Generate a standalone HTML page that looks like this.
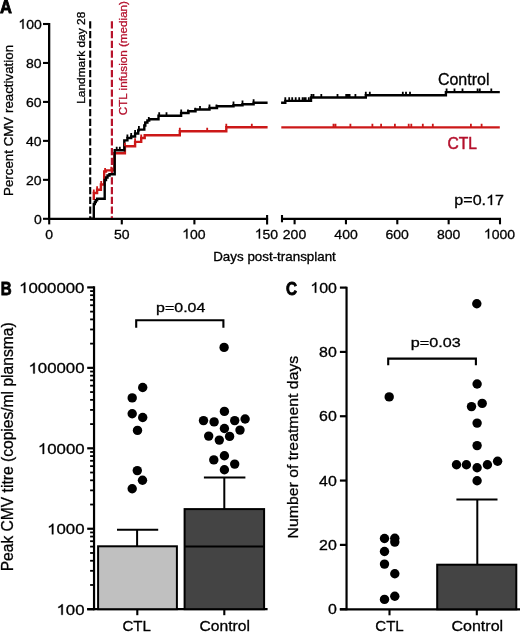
<!DOCTYPE html>
<html><head><meta charset="utf-8"><style>
html,body{margin:0;padding:0;background:#fff;}
svg{display:block;will-change:transform;}
text{font-family:"Liberation Sans",sans-serif;}
</style></head><body>
<svg width="520" height="632" viewBox="0 0 520 632">
<rect width="520" height="632" fill="#fff"/>
<text x="0.1" y="12.5" font-size="17.5" font-weight="bold" fill="#000" stroke="#000" stroke-width="0.8" textLength="11.93" lengthAdjust="spacingAndGlyphs">A</text>
<line x1="49.15" y1="23" x2="49.15" y2="219.9" stroke="#000" stroke-width="2.3"/>
<line x1="43" y1="218.8" x2="49.15" y2="218.8" stroke="#000" stroke-width="2.1"/>
<text x="33.92" y="223.5" font-size="13.6" fill="#000" stroke="#000" stroke-width="0.3" textLength="7.79" lengthAdjust="spacingAndGlyphs">0</text>
<line x1="43" y1="179.84" x2="49.15" y2="179.84" stroke="#000" stroke-width="2.1"/>
<text x="26.07" y="184.54" font-size="13.6" fill="#000" stroke="#000" stroke-width="0.3" textLength="15.58" lengthAdjust="spacingAndGlyphs">20</text>
<line x1="43" y1="140.88" x2="49.15" y2="140.88" stroke="#000" stroke-width="2.1"/>
<text x="26.07" y="145.58" font-size="13.6" fill="#000" stroke="#000" stroke-width="0.3" textLength="15.58" lengthAdjust="spacingAndGlyphs">40</text>
<line x1="43" y1="101.92" x2="49.15" y2="101.92" stroke="#000" stroke-width="2.1"/>
<text x="26.07" y="106.62" font-size="13.6" fill="#000" stroke="#000" stroke-width="0.3" textLength="15.58" lengthAdjust="spacingAndGlyphs">60</text>
<line x1="43" y1="62.96" x2="49.15" y2="62.96" stroke="#000" stroke-width="2.1"/>
<text x="26.07" y="67.66" font-size="13.6" fill="#000" stroke="#000" stroke-width="0.3" textLength="15.58" lengthAdjust="spacingAndGlyphs">80</text>
<line x1="43" y1="24" x2="49.15" y2="24" stroke="#000" stroke-width="2.1"/>
<path d="M764 0L584 0L584 1147C541 1106 484 1065 414 1024C344 983 281 952 225 931L225 1105C322 1150 407 1205 480 1270C553 1335 604 1400 634 1466L764 1466Z" transform="translate(18.37 28.7) scale(0.006840 -0.006641)" fill="#000" stroke="#000" stroke-width="45.2"/>
<text x="18.37" y="28.7" font-size="13.6" fill="#000" stroke="#000" stroke-width="0.3" textLength="23.37" lengthAdjust="spacingAndGlyphs"> 00</text>
<text transform="translate(12.9 195.97) rotate(-90)" font-size="13.3" fill="#000" stroke="#000" stroke-width="0.3" textLength="151.06" lengthAdjust="spacingAndGlyphs">Percent CMV reactivation</text>
<line x1="48" y1="218.8" x2="268.1" y2="218.8" stroke="#000" stroke-width="2.2"/>
<line x1="281.2" y1="218.8" x2="501" y2="218.8" stroke="#000" stroke-width="2.2"/>
<line x1="49.2" y1="218.8" x2="49.2" y2="224.4" stroke="#000" stroke-width="2.1"/>
<line x1="121.8" y1="218.8" x2="121.8" y2="224.4" stroke="#000" stroke-width="2.1"/>
<line x1="194.4" y1="218.8" x2="194.4" y2="224.4" stroke="#000" stroke-width="2.1"/>
<line x1="267.1" y1="215" x2="267.1" y2="224.5" stroke="#000" stroke-width="2.1"/>
<line x1="282" y1="215" x2="282" y2="222.3" stroke="#000" stroke-width="2.1"/>
<line x1="294.6" y1="218.8" x2="294.6" y2="224.3" stroke="#000" stroke-width="2.1"/>
<line x1="345.95" y1="218.8" x2="345.95" y2="224.3" stroke="#000" stroke-width="2.1"/>
<line x1="397.3" y1="218.8" x2="397.3" y2="224.3" stroke="#000" stroke-width="2.1"/>
<line x1="448.65" y1="218.8" x2="448.65" y2="224.3" stroke="#000" stroke-width="2.1"/>
<line x1="500" y1="218.8" x2="500" y2="224.3" stroke="#000" stroke-width="2.1"/>
<text x="45.28" y="238.6" font-size="13.6" fill="#000" stroke="#000" stroke-width="0.3" textLength="7.79" lengthAdjust="spacingAndGlyphs">0</text>
<text x="113.96" y="238.6" font-size="13.6" fill="#000" stroke="#000" stroke-width="0.3" textLength="15.58" lengthAdjust="spacingAndGlyphs">50</text>
<path d="M764 0L584 0L584 1147C541 1106 484 1065 414 1024C344 983 281 952 225 931L225 1105C322 1150 407 1205 480 1270C553 1335 604 1400 634 1466L764 1466Z" transform="translate(182.21 238.6) scale(0.006840 -0.006641)" fill="#000" stroke="#000" stroke-width="45.2"/>
<text x="182.21" y="238.6" font-size="13.6" fill="#000" stroke="#000" stroke-width="0.3" textLength="23.37" lengthAdjust="spacingAndGlyphs"> 00</text>
<path d="M764 0L584 0L584 1147C541 1106 484 1065 414 1024C344 983 281 952 225 931L225 1105C322 1150 407 1205 480 1270C553 1335 604 1400 634 1466L764 1466Z" transform="translate(254.81 238.6) scale(0.006840 -0.006641)" fill="#000" stroke="#000" stroke-width="45.2"/>
<text x="254.81" y="238.6" font-size="13.6" fill="#000" stroke="#000" stroke-width="0.3" textLength="23.37" lengthAdjust="spacingAndGlyphs"> 50</text>
<text x="282.83" y="238.6" font-size="13.6" fill="#000" stroke="#000" stroke-width="0.3" textLength="23.37" lengthAdjust="spacingAndGlyphs">200</text>
<text x="334.39" y="238.6" font-size="13.6" fill="#000" stroke="#000" stroke-width="0.3" textLength="23.37" lengthAdjust="spacingAndGlyphs">400</text>
<text x="385.53" y="238.6" font-size="13.6" fill="#000" stroke="#000" stroke-width="0.3" textLength="23.37" lengthAdjust="spacingAndGlyphs">600</text>
<text x="436.95" y="238.6" font-size="13.6" fill="#000" stroke="#000" stroke-width="0.3" textLength="23.37" lengthAdjust="spacingAndGlyphs">800</text>
<path d="M764 0L584 0L584 1147C541 1106 484 1065 414 1024C344 983 281 952 225 931L225 1105C322 1150 407 1205 480 1270C553 1335 604 1400 634 1466L764 1466Z" transform="translate(483.89 238.6) scale(0.006840 -0.006641)" fill="#000" stroke="#000" stroke-width="45.2"/>
<text x="483.89" y="238.6" font-size="13.6" fill="#000" stroke="#000" stroke-width="0.3" textLength="31.16" lengthAdjust="spacingAndGlyphs"> 000</text>
<text x="213.23" y="260.5" font-size="12.2" fill="#000" stroke="#000" stroke-width="0.3" textLength="122.61" lengthAdjust="spacingAndGlyphs">Days post-transplant</text>
<line x1="90.2" y1="21.3" x2="90.2" y2="218" stroke="#000" stroke-width="2.1" stroke-dasharray="7.1 2.65"/>
<line x1="111.9" y1="21.3" x2="111.9" y2="218" stroke="#b8142c" stroke-width="2.2" stroke-dasharray="7.1 2.65"/>
<text transform="translate(84.5 103.85) rotate(-90)" font-size="11.8" fill="#000" stroke="#000" stroke-width="0.3" textLength="92.11" lengthAdjust="spacingAndGlyphs">Landmark day 28</text>
<text transform="translate(127.3 115.28) rotate(-90)" font-size="11.8" fill="#b4102c" stroke="#b4102c" stroke-width="0.3" textLength="114.28" lengthAdjust="spacingAndGlyphs">CTL infusion (median)</text>
<path d="M93.8 200 V193 H97.1 V189.8 H100.9 V184.5 H104.2 V171.5 H106 V170.4 H114.3 V153.3 H124.9 V146.3 H135.1 V141.9 H141.2 V138 H144.7 V135.2 H179.8 V131.3 H226.3 V127.3 H267.6" fill="none" stroke="#cc1818" stroke-width="2.4"/>
<path d="M281.3 127.4 H499.8" fill="none" stroke="#cc1818" stroke-width="2.4"/>
<path d="M90.2 218.8 H93.8 V204 H94.8 V202 H95.8 V200.3 H97.1 V198.8 H104.7 V180 H106 V177.5 H107.5 V175.5 H109.5 V174.3 H114.7 V150.3 H124.3 V140.4 H127.4 V138 H131.2 V136.5 H135.1 V133.5 H138.2 V130.4 H138.9 V129.6 H144.3 V125.5 H145.3 V122.5 H147.4 V120.5 H149.2 V119.2 H158.5 V115.8 H181.1 V113 H188.5 V111.3 H195.5 V109.5 H209.5 V108 H217 V106.2 H233.5 V105.2 H242.5 V104.2 H253.6 V102.8 H267.6" fill="none" stroke="#000" stroke-width="2.4"/>
<path d="M281.1 102.8 H285.3 V100.9 H311 V97.5 H365.8 V95.3 H445.9 V92.1 H499.8" fill="none" stroke="#000" stroke-width="2.4"/>
<path d="M116.7 150.3 V146.7 M119.8 150.3 V146.7 M127.4 138 V134.4 M131.2 136.5 V132.9 M135.1 133.5 V129.9 M138.9 129.6 V126 M145.1 125.5 V121.9 M148.8 120.5 V116.9 M159.2 115.8 V112.2 M166.5 115.8 V112.2 M181.2 113 V109.4 M188 113 V109.4 M195.3 111.3 V107.7 M200 109.5 V105.9 M209.5 108 V104.4 M216.5 108 V104.4 M233.5 105.2 V101.6 M242.5 104.2 V100.6 M253.6 102.8 V99.2 " fill="none" stroke="#000" stroke-width="1.8"/>
<path d="M285.3 100.9 V97.3 M289.2 100.9 V97.3 M292.2 100.9 V97.3 M295.7 100.9 V97.3 M299.2 100.9 V97.3 M302.6 100.9 V97.3 M304.5 100.9 V97.3 M305.7 100.9 V97.3 M308.8 100.9 V97.3 M311.5 97.5 V93.9 M313.5 97.5 V93.9 M321.3 97.5 V93.9 M337.5 97.5 V93.9 M346.2 97.5 V93.9 M348 97.5 V93.9 M349.6 97.5 V93.9 M355.4 97.5 V93.9 M365.8 95.3 V91.7 M369.8 95.3 V91.7 M402.8 95.3 V91.7 M406 95.3 V91.7 M410 95.3 V91.7 M446.6 92.1 V88.5 M454.5 92.1 V88.5 M462.5 92.1 V88.5 M477.6 92.1 V88.5 M479.8 92.1 V88.5 M491.3 92.1 V88.5 " fill="none" stroke="#000" stroke-width="1.8"/>
<path d="M93.8 193 V189.4 M97.1 189.8 V186.2 M101.2 184.5 V180.9 M105.1 171.5 V167.9 M111.3 170.4 V166.8 M124.9 146.3 V142.7 M135.1 141.9 V138.3 M141.2 138 V134.4 M179.8 131.3 V127.7 M207.2 131.3 V127.7 M226.3 127.3 V123.7 M251.8 127.3 V123.7 " fill="none" stroke="#cc1818" stroke-width="1.8"/>
<path d="M333.5 127.4 V123.8 M335.5 127.4 V123.8 M350.4 127.4 V123.8 M372.4 127.4 V123.8 M381.1 127.4 V123.8 M394.9 127.4 V123.8 M408.7 127.4 V123.8 M411.3 127.4 V123.8 M422.8 127.4 V123.8 M432.8 127.4 V123.8 M470.9 127.4 V123.8 M481.6 127.4 V123.8 " fill="none" stroke="#cc1818" stroke-width="1.8"/>
<text x="437.9" y="84.7" font-size="16" fill="#000" stroke="#000" stroke-width="0.3" textLength="51.62" lengthAdjust="spacingAndGlyphs">Control</text>
<text x="447.42" y="148.7" font-size="16.6" fill="#b4102c" stroke="#b4102c" stroke-width="0.5" textLength="29.49" lengthAdjust="spacingAndGlyphs">CTL</text>
<path d="M764 0L584 0L584 1147C541 1106 484 1065 414 1024C344 983 281 952 225 931L225 1105C322 1150 407 1205 480 1270C553 1335 604 1400 634 1466L764 1466Z" transform="translate(486.07 205) scale(0.007849 -0.007031)" fill="#000" stroke="#000" stroke-width="42.7"/>
<text x="454.34" y="205" font-size="14.4" fill="#000" stroke="#000" stroke-width="0.3" textLength="49.61" lengthAdjust="spacingAndGlyphs">p=0. 7</text>
<text x="0.74" y="295" font-size="17.5" font-weight="bold" fill="#000" stroke="#000" stroke-width="0.8" textLength="10.89" lengthAdjust="spacingAndGlyphs">B</text>
<line x1="94.05" y1="286.3" x2="94.05" y2="610.3" stroke="#000" stroke-width="2.2"/>
<line x1="87.2" y1="609.2" x2="94.05" y2="609.2" stroke="#000" stroke-width="2.2"/>
<path d="M764 0L584 0L584 1147C541 1106 484 1065 414 1024C344 983 281 952 225 931L225 1105C322 1150 407 1205 480 1270C553 1335 604 1400 634 1466L764 1466Z" transform="translate(56.52 614.8) scale(0.008202 -0.007227)" fill="#000" stroke="#000" stroke-width="41.5"/>
<text x="56.52" y="614.8" font-size="14.8" fill="#000" stroke="#000" stroke-width="0.3" textLength="28.02" lengthAdjust="spacingAndGlyphs"> 00</text>
<line x1="90.1" y1="584.98" x2="94.05" y2="584.98" stroke="#000" stroke-width="1.8"/>
<line x1="90.1" y1="570.82" x2="94.05" y2="570.82" stroke="#000" stroke-width="1.8"/>
<line x1="90.1" y1="560.76" x2="94.05" y2="560.76" stroke="#000" stroke-width="1.8"/>
<line x1="90.1" y1="552.97" x2="94.05" y2="552.97" stroke="#000" stroke-width="1.8"/>
<line x1="90.1" y1="546.6" x2="94.05" y2="546.6" stroke="#000" stroke-width="1.8"/>
<line x1="90.1" y1="541.21" x2="94.05" y2="541.21" stroke="#000" stroke-width="1.8"/>
<line x1="90.1" y1="536.55" x2="94.05" y2="536.55" stroke="#000" stroke-width="1.8"/>
<line x1="90.1" y1="532.43" x2="94.05" y2="532.43" stroke="#000" stroke-width="1.8"/>
<line x1="87.2" y1="528.75" x2="94.05" y2="528.75" stroke="#000" stroke-width="2.2"/>
<path d="M764 0L584 0L584 1147C541 1106 484 1065 414 1024C344 983 281 952 225 931L225 1105C322 1150 407 1205 480 1270C553 1335 604 1400 634 1466L764 1466Z" transform="translate(47.11 534.35) scale(0.008202 -0.007227)" fill="#000" stroke="#000" stroke-width="41.5"/>
<text x="47.11" y="534.35" font-size="14.8" fill="#000" stroke="#000" stroke-width="0.3" textLength="37.37" lengthAdjust="spacingAndGlyphs"> 000</text>
<line x1="90.1" y1="504.53" x2="94.05" y2="504.53" stroke="#000" stroke-width="1.8"/>
<line x1="90.1" y1="490.37" x2="94.05" y2="490.37" stroke="#000" stroke-width="1.8"/>
<line x1="90.1" y1="480.31" x2="94.05" y2="480.31" stroke="#000" stroke-width="1.8"/>
<line x1="90.1" y1="472.52" x2="94.05" y2="472.52" stroke="#000" stroke-width="1.8"/>
<line x1="90.1" y1="466.15" x2="94.05" y2="466.15" stroke="#000" stroke-width="1.8"/>
<line x1="90.1" y1="460.76" x2="94.05" y2="460.76" stroke="#000" stroke-width="1.8"/>
<line x1="90.1" y1="456.1" x2="94.05" y2="456.1" stroke="#000" stroke-width="1.8"/>
<line x1="90.1" y1="451.98" x2="94.05" y2="451.98" stroke="#000" stroke-width="1.8"/>
<line x1="87.2" y1="448.3" x2="94.05" y2="448.3" stroke="#000" stroke-width="2.2"/>
<path d="M764 0L584 0L584 1147C541 1106 484 1065 414 1024C344 983 281 952 225 931L225 1105C322 1150 407 1205 480 1270C553 1335 604 1400 634 1466L764 1466Z" transform="translate(37.87 453.9) scale(0.008202 -0.007227)" fill="#000" stroke="#000" stroke-width="41.5"/>
<text x="37.87" y="453.9" font-size="14.8" fill="#000" stroke="#000" stroke-width="0.3" textLength="46.71" lengthAdjust="spacingAndGlyphs"> 0000</text>
<line x1="90.1" y1="424.08" x2="94.05" y2="424.08" stroke="#000" stroke-width="1.8"/>
<line x1="90.1" y1="409.92" x2="94.05" y2="409.92" stroke="#000" stroke-width="1.8"/>
<line x1="90.1" y1="399.86" x2="94.05" y2="399.86" stroke="#000" stroke-width="1.8"/>
<line x1="90.1" y1="392.07" x2="94.05" y2="392.07" stroke="#000" stroke-width="1.8"/>
<line x1="90.1" y1="385.7" x2="94.05" y2="385.7" stroke="#000" stroke-width="1.8"/>
<line x1="90.1" y1="380.31" x2="94.05" y2="380.31" stroke="#000" stroke-width="1.8"/>
<line x1="90.1" y1="375.65" x2="94.05" y2="375.65" stroke="#000" stroke-width="1.8"/>
<line x1="90.1" y1="371.53" x2="94.05" y2="371.53" stroke="#000" stroke-width="1.8"/>
<line x1="87.2" y1="367.85" x2="94.05" y2="367.85" stroke="#000" stroke-width="2.2"/>
<path d="M764 0L584 0L584 1147C541 1106 484 1065 414 1024C344 983 281 952 225 931L225 1105C322 1150 407 1205 480 1270C553 1335 604 1400 634 1466L764 1466Z" transform="translate(28.47 373.45) scale(0.008202 -0.007227)" fill="#000" stroke="#000" stroke-width="41.5"/>
<text x="28.47" y="373.45" font-size="14.8" fill="#000" stroke="#000" stroke-width="0.3" textLength="56.05" lengthAdjust="spacingAndGlyphs"> 00000</text>
<line x1="90.1" y1="343.63" x2="94.05" y2="343.63" stroke="#000" stroke-width="1.8"/>
<line x1="90.1" y1="329.47" x2="94.05" y2="329.47" stroke="#000" stroke-width="1.8"/>
<line x1="90.1" y1="319.41" x2="94.05" y2="319.41" stroke="#000" stroke-width="1.8"/>
<line x1="90.1" y1="311.62" x2="94.05" y2="311.62" stroke="#000" stroke-width="1.8"/>
<line x1="90.1" y1="305.25" x2="94.05" y2="305.25" stroke="#000" stroke-width="1.8"/>
<line x1="90.1" y1="299.86" x2="94.05" y2="299.86" stroke="#000" stroke-width="1.8"/>
<line x1="90.1" y1="295.2" x2="94.05" y2="295.2" stroke="#000" stroke-width="1.8"/>
<line x1="90.1" y1="291.08" x2="94.05" y2="291.08" stroke="#000" stroke-width="1.8"/>
<line x1="87.2" y1="287.4" x2="94.05" y2="287.4" stroke="#000" stroke-width="2.2"/>
<path d="M764 0L584 0L584 1147C541 1106 484 1065 414 1024C344 983 281 952 225 931L225 1105C322 1150 407 1205 480 1270C553 1335 604 1400 634 1466L764 1466Z" transform="translate(19.06 293) scale(0.008202 -0.007227)" fill="#000" stroke="#000" stroke-width="41.5"/>
<text x="19.06" y="293" font-size="14.8" fill="#000" stroke="#000" stroke-width="0.3" textLength="65.39" lengthAdjust="spacingAndGlyphs"> 000000</text>
<text transform="translate(13 571.35) rotate(-90)" font-size="15.6" fill="#000" stroke="#000" stroke-width="0.3" textLength="248.96" lengthAdjust="spacingAndGlyphs">Peak CMV titre (copies/ml plansma)</text>
<line x1="87.2" y1="609.2" x2="267.6" y2="609.2" stroke="#000" stroke-width="2.3"/>
<rect x="98.1" y="546.3" width="78.8" height="62.9" fill="#c0c0c0" stroke="#000" stroke-width="2"/>
<line x1="137.1" y1="546.3" x2="137.1" y2="529.8" stroke="#000" stroke-width="2"/>
<line x1="117" y1="529.8" x2="158.2" y2="529.8" stroke="#000" stroke-width="2"/>
<rect x="184.6" y="509.1" width="79.5" height="100.1" fill="#444" stroke="#000" stroke-width="2"/>
<line x1="184.6" y1="546.6" x2="264.1" y2="546.6" stroke="#000" stroke-width="2"/>
<line x1="224.3" y1="509.1" x2="224.3" y2="477.6" stroke="#000" stroke-width="2"/>
<line x1="203.9" y1="477.6" x2="245.4" y2="477.6" stroke="#000" stroke-width="2"/>
<line x1="137.3" y1="609.2" x2="137.3" y2="615.2" stroke="#000" stroke-width="2.1"/>
<line x1="224.3" y1="609.2" x2="224.3" y2="615.2" stroke="#000" stroke-width="2.1"/>
<circle cx="142.7" cy="387.5" r="4.7"/>
<circle cx="132.2" cy="397.9" r="4.7"/>
<circle cx="132.2" cy="413.7" r="4.7"/>
<circle cx="142.7" cy="417.5" r="4.7"/>
<circle cx="137.5" cy="430.4" r="4.7"/>
<circle cx="137.3" cy="470.6" r="4.7"/>
<circle cx="142.5" cy="480.3" r="4.7"/>
<circle cx="132.2" cy="488.8" r="4.7"/>
<circle cx="224.1" cy="347.4" r="4.7"/>
<circle cx="224.4" cy="411.4" r="4.7"/>
<circle cx="203.5" cy="420.6" r="4.7"/>
<circle cx="214.1" cy="421.9" r="4.7"/>
<circle cx="234.7" cy="420.6" r="4.7"/>
<circle cx="245.1" cy="419" r="4.7"/>
<circle cx="224.4" cy="428.5" r="4.7"/>
<circle cx="240" cy="430.1" r="4.7"/>
<circle cx="208.7" cy="436.1" r="4.7"/>
<circle cx="219.3" cy="440.1" r="4.7"/>
<circle cx="229.6" cy="436.4" r="4.7"/>
<circle cx="224.4" cy="455.7" r="4.7"/>
<circle cx="213.8" cy="459.9" r="4.7"/>
<circle cx="234.7" cy="464.1" r="4.7"/>
<circle cx="224.4" cy="469.7" r="4.7"/>
<path d="M136.2 327.8 V320.3 H223.4 V327.8" fill="none" stroke="#000" stroke-width="2.1"/>
<text x="156.14" y="311.6" font-size="13.4" fill="#000" stroke="#000" stroke-width="0.3" textLength="49.17" lengthAdjust="spacingAndGlyphs">p=0.04</text>
<text x="122.46" y="630.8" font-size="14.8" fill="#000" stroke="#000" stroke-width="0.3" textLength="28.52" lengthAdjust="spacingAndGlyphs">CTL</text>
<text x="199.47" y="630.8" font-size="14.5" fill="#000" stroke="#000" stroke-width="0.3" textLength="50.48" lengthAdjust="spacingAndGlyphs">Control</text>
<text x="286.08" y="295" font-size="17.5" font-weight="bold" fill="#000" stroke="#000" stroke-width="0.8" textLength="11.11" lengthAdjust="spacingAndGlyphs">C</text>
<line x1="346.55" y1="286.8" x2="346.55" y2="610.3" stroke="#000" stroke-width="2.2"/>
<line x1="339.9" y1="609.2" x2="346.55" y2="609.2" stroke="#000" stroke-width="2.2"/>
<text x="328.01" y="614.3" font-size="14.5" fill="#000" stroke="#000" stroke-width="0.3" textLength="8.87" lengthAdjust="spacingAndGlyphs">0</text>
<line x1="339.9" y1="544.88" x2="346.55" y2="544.88" stroke="#000" stroke-width="2.2"/>
<text x="319.07" y="549.98" font-size="14.5" fill="#000" stroke="#000" stroke-width="0.3" textLength="17.74" lengthAdjust="spacingAndGlyphs">20</text>
<line x1="339.9" y1="480.56" x2="346.55" y2="480.56" stroke="#000" stroke-width="2.2"/>
<text x="319.07" y="485.66" font-size="14.5" fill="#000" stroke="#000" stroke-width="0.3" textLength="17.74" lengthAdjust="spacingAndGlyphs">40</text>
<line x1="339.9" y1="416.24" x2="346.55" y2="416.24" stroke="#000" stroke-width="2.2"/>
<text x="319.07" y="421.34" font-size="14.5" fill="#000" stroke="#000" stroke-width="0.3" textLength="17.74" lengthAdjust="spacingAndGlyphs">60</text>
<line x1="339.9" y1="351.92" x2="346.55" y2="351.92" stroke="#000" stroke-width="2.2"/>
<text x="319.07" y="357.02" font-size="14.5" fill="#000" stroke="#000" stroke-width="0.3" textLength="17.74" lengthAdjust="spacingAndGlyphs">80</text>
<line x1="339.9" y1="287.6" x2="346.55" y2="287.6" stroke="#000" stroke-width="2.2"/>
<path d="M764 0L584 0L584 1147C541 1106 484 1065 414 1024C344 983 281 952 225 931L225 1105C322 1150 407 1205 480 1270C553 1335 604 1400 634 1466L764 1466Z" transform="translate(310.3 292.7) scale(0.007788 -0.007080)" fill="#000" stroke="#000" stroke-width="42.4"/>
<text x="310.3" y="292.7" font-size="14.5" fill="#000" stroke="#000" stroke-width="0.3" textLength="26.61" lengthAdjust="spacingAndGlyphs"> 00</text>
<text transform="translate(297.6 538.46) rotate(-90)" font-size="15.4" fill="#000" stroke="#000" stroke-width="0.3" textLength="182.69" lengthAdjust="spacingAndGlyphs">Number of treatment days</text>
<line x1="339.8" y1="609.3" x2="520" y2="609.3" stroke="#000" stroke-width="2.3"/>
<rect x="437.2" y="564.7" width="79.1" height="44.6" fill="#444" stroke="#000" stroke-width="2"/>
<line x1="477.3" y1="564.7" x2="477.3" y2="499.6" stroke="#000" stroke-width="2"/>
<line x1="456.4" y1="499.6" x2="497.5" y2="499.6" stroke="#000" stroke-width="2"/>
<line x1="389.5" y1="609.3" x2="389.5" y2="615.3" stroke="#000" stroke-width="2.1"/>
<line x1="476.8" y1="609.3" x2="476.8" y2="615.3" stroke="#000" stroke-width="2.1"/>
<circle cx="389.2" cy="396.9" r="4.7"/>
<circle cx="384.5" cy="538.5" r="4.7"/>
<circle cx="394.8" cy="538.2" r="4.7"/>
<circle cx="394.8" cy="542.1" r="4.7"/>
<circle cx="384.5" cy="551.5" r="4.7"/>
<circle cx="384.5" cy="564.1" r="4.7"/>
<circle cx="394.8" cy="573.8" r="4.7"/>
<circle cx="394.8" cy="596.3" r="4.7"/>
<circle cx="384.5" cy="599.4" r="4.7"/>
<circle cx="476.8" cy="303.7" r="4.7"/>
<circle cx="477.1" cy="384" r="4.7"/>
<circle cx="482.2" cy="403.4" r="4.7"/>
<circle cx="471.5" cy="406.6" r="4.7"/>
<circle cx="477.1" cy="423.1" r="4.7"/>
<circle cx="477.1" cy="445.6" r="4.7"/>
<circle cx="456.5" cy="464.7" r="4.7"/>
<circle cx="466.4" cy="464.7" r="4.7"/>
<circle cx="477.1" cy="467.8" r="4.7"/>
<circle cx="487.4" cy="464.7" r="4.7"/>
<circle cx="497.6" cy="461.2" r="4.7"/>
<circle cx="477.1" cy="480.8" r="4.7"/>
<path d="M388.2 365.2 V358.6 H475.9 V365.2" fill="none" stroke="#000" stroke-width="2.1"/>
<text x="410.83" y="346.5" font-size="13.6" fill="#000" stroke="#000" stroke-width="0.3" textLength="49.92" lengthAdjust="spacingAndGlyphs">p=0.03</text>
<text x="375.26" y="630.8" font-size="14.8" fill="#000" stroke="#000" stroke-width="0.3" textLength="28.52" lengthAdjust="spacingAndGlyphs">CTL</text>
<text x="451.42" y="630.8" font-size="14.6" fill="#000" stroke="#000" stroke-width="0.3" textLength="51.77" lengthAdjust="spacingAndGlyphs">Control</text>
</svg>
</body></html>
